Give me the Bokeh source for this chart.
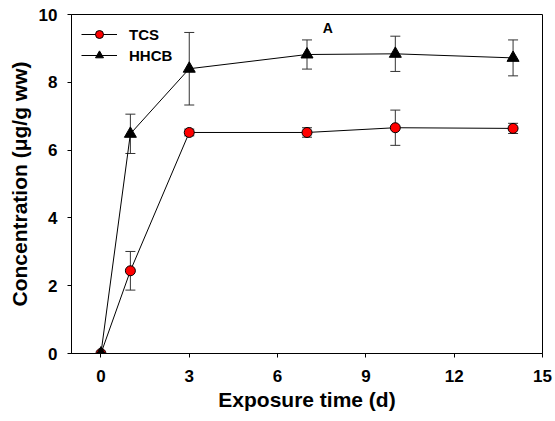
from bokeh.plotting import figure
from bokeh.models import Range1d, FixedTicker, Whisker, TeeHead, ColumnDataSource, Legend, LegendItem
from bokeh.core.properties import value
from bokeh.embed import file_html
from bokeh.resources import INLINE

# data
days = [0, 1, 3, 7, 10, 14]
tcs = [0.0, 2.44, 6.52, 6.52, 6.66, 6.64]
tcs_err = [0.0, 0.57, 0.10, 0.14, 0.52, 0.15]
hhcb = [0.0, 6.48, 8.40, 8.82, 8.84, 8.72]
hhcb_err = [0.0, 0.58, 1.07, 0.43, 0.52, 0.53]
x_ticks = [0, 3, 6, 9, 12, 15]
y_ticks = [0, 2, 4, 6, 8, 10]
panel_label = "A"
panel_label_pos = (7.71, 9.59)

FONT = "Liberation Sans"

p = figure(width=553, height=416, output_backend="svg", toolbar_location=None,
           x_range=Range1d(-1, 15), y_range=Range1d(0, 10),
           min_border_left=71, min_border_right=11, min_border_top=14, min_border_bottom=63)
p.background_fill_color = "white"
p.border_fill_color = "white"
p.outline_line_color = "black"
p.outline_line_width = 1
p.xgrid.visible = False
p.ygrid.visible = False

for ax in (p.xaxis[0], p.yaxis[0]):
    ax.axis_line_color = "black"
    ax.major_tick_line_color = "black"
    ax.major_tick_out = 4
    ax.major_tick_in = 0
    ax.minor_tick_line_color = None
    ax.major_label_text_font = FONT
    ax.major_label_text_font_style = "bold"
    ax.major_label_text_font_size = "17px"
    ax.major_label_text_color = "black"
    ax.axis_label_text_font = FONT
    ax.axis_label_text_font_style = "bold"
    ax.axis_label_text_font_size = "21px"
    ax.axis_label_text_color = "black"

p.xaxis.ticker = FixedTicker(ticks=x_ticks)
p.yaxis.ticker = FixedTicker(ticks=y_ticks)
p.xaxis.axis_label = "Exposure time (d)"
p.yaxis.axis_label = "Concentration (μg/g ww)"
p.xaxis.major_label_standoff = 12
p.yaxis.major_label_standoff = 10
p.xaxis.axis_label_standoff = 3
p.yaxis.axis_label_standoff = 5

src_t = ColumnDataSource(dict(x=days, y=tcs,
                              lo=[a - b for a, b in zip(tcs, tcs_err)],
                              hi=[a + b for a, b in zip(tcs, tcs_err)]))
src_h = ColumnDataSource(dict(x=days, y=hhcb,
                              lo=[a - b for a, b in zip(hhcb, hhcb_err)],
                              hi=[a + b for a, b in zip(hhcb, hhcb_err)]))

l_t = p.line("x", "y", source=src_t, line_color="black", line_width=1)
l_h = p.line("x", "y", source=src_h, line_color="black", line_width=1)

for src in (src_t, src_h):
    w = Whisker(source=src, base="x", lower="lo", upper="hi",
                line_color="#333333", line_width=1,
                upper_head=TeeHead(size=10, line_color="#333333", line_width=1),
                lower_head=TeeHead(size=10, line_color="#333333", line_width=1))
    p.add_layout(w)

s_t = p.scatter("x", "y", source=src_t, marker="circle", size=10,
                fill_color="red", line_color="black", line_width=1)
s_h = p.scatter("x", "y", source=src_h, marker="triangle", size=12,
                fill_color="black", line_color="black", line_width=1)

p.text(x=[panel_label_pos[0]], y=[panel_label_pos[1]], text=[panel_label],
       text_font=value(FONT), text_font_style="bold", text_font_size="14px",
       text_align="center", text_baseline="middle", text_color="black")

legend = Legend(items=[LegendItem(label="TCS", renderers=[l_t, s_t]),
                       LegendItem(label="HHCB", renderers=[l_h, s_h])],
                location="top_left")
legend.margin = 10
legend.padding = 0
legend.spacing = 1
legend.border_line_color = None
legend.background_fill_alpha = 0
legend.glyph_width = 36
legend.glyph_height = 20
legend.label_height = 20
legend.label_standoff = 12
legend.label_text_font = FONT
legend.label_text_font_style = "bold"
legend.label_text_font_size = "15px"
legend.label_text_color = "black"
p.add_layout(legend)

open("out.html", "w").write(file_html(p, INLINE))
